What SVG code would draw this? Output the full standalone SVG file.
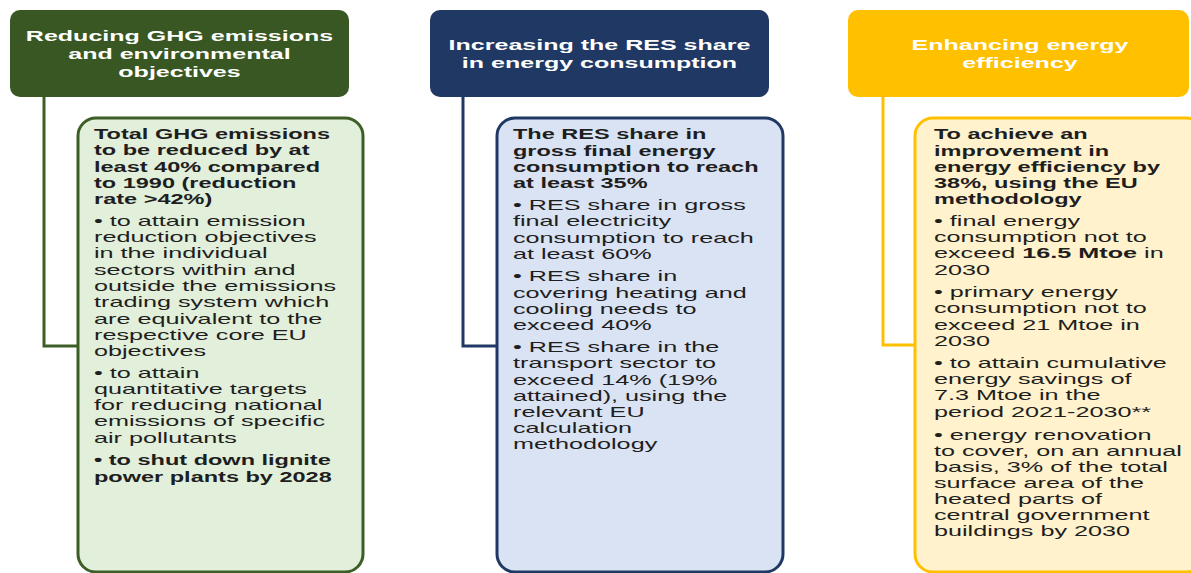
<svg xmlns="http://www.w3.org/2000/svg" width="1191" height="573" viewBox="0 0 1191 573">
<style>
.hdr{font-family:"Liberation Sans",Arial,sans-serif;font-size:15px;font-weight:bold;fill:#ffffff;text-anchor:middle}
.body{font-family:"Liberation Sans",Arial,sans-serif;font-size:14px;fill:#1e1e1e}
.b{font-weight:bold}
.conn{fill:none;stroke-width:3}
</style>
<rect width="1191" height="573" fill="#ffffff"/>
<g id="connectors">
<polyline class="conn" stroke="#3d5f27" points="44,97 44,346 78,346"/>
<polyline class="conn" stroke="#203864" points="463,97 463,346 497,346"/>
<polyline class="conn" stroke="#ffc000" points="883,97 883,345 915,345"/>
</g>
<g id="h1">
<rect x="10" y="10" width="339" height="87" rx="10" fill="#385723"/>
<g transform="translate(179.5,0) scale(1.67,1)">
<text class="hdr" x="0" y="41">Reducing GHG emissions</text>
<text class="hdr" x="0" y="59">and environmental</text>
<text class="hdr" x="0" y="77">objectives</text>
</g>
</g>
<g id="h2">
<rect x="430" y="10" width="339" height="87" rx="10" fill="#1f3864"/>
<g transform="translate(599.5,0) scale(1.67,1)">
<text class="hdr" x="0" y="50">Increasing the RES share</text>
<text class="hdr" x="0" y="68">in energy consumption</text>
</g>
</g>
<g id="h3">
<rect x="848" y="10" width="341" height="87" rx="10" fill="#ffc000"/>
<g transform="translate(1020,0) scale(1.67,1)">
<text class="hdr" x="0" y="50">Enhancing energy</text>
<text class="hdr" x="0" y="68">efficiency</text>
</g>
</g>
<g id="box1">
<rect x="78" y="118" width="285" height="454" rx="18" fill="#e2efda" stroke="#3d5f27" stroke-width="3"/>
<g transform="translate(94,0) scale(1.68,1)">
<text class="body b" x="0" y="139">Total GHG emissions</text>
<text class="body b" x="0" y="155">to be reduced by at</text>
<text class="body b" x="0" y="172">least 40% compared</text>
<text class="body b" x="0" y="188">to 1990 (reduction</text>
<text class="body b" x="0" y="204">rate &gt;42%)</text>
<text class="body b" x="0" y="465">• to shut down lignite</text>
<text class="body b" x="0" y="482">power plants by 2028</text>
</g>
<g transform="translate(94,0) scale(1.8,1)">
<text class="body" x="0" y="226">• to attain emission</text>
<text class="body" x="0" y="242">reduction objectives</text>
<text class="body" x="0" y="258">in the individual</text>
<text class="body" x="0" y="275">sectors within and</text>
<text class="body" x="0" y="291">outside the emissions</text>
<text class="body" x="0" y="307">trading system which</text>
<text class="body" x="0" y="324">are equivalent to the</text>
<text class="body" x="0" y="340">respective core EU</text>
<text class="body" x="0" y="356">objectives</text>
<text class="body" x="0" y="378">• to attain</text>
<text class="body" x="0" y="394">quantitative targets</text>
<text class="body" x="0" y="410">for reducing national</text>
<text class="body" x="0" y="426">emissions of specific</text>
<text class="body" x="0" y="443">air pollutants</text>
</g>
</g>
<g id="box2">
<rect x="497" y="118" width="286" height="454" rx="18" fill="#dae3f3" stroke="#203864" stroke-width="3"/>
<g transform="translate(513,0) scale(1.68,1)">
<text class="body b" x="0" y="139">The RES share in</text>
<text class="body b" x="0" y="156">gross final energy</text>
<text class="body b" x="0" y="172">consumption to reach</text>
<text class="body b" x="0" y="188">at least 35%</text>
</g>
<g transform="translate(513,0) scale(1.8,1)">
<text class="body" x="0" y="210">• RES share in gross</text>
<text class="body" x="0" y="226">final electricity</text>
<text class="body" x="0" y="243">consumption to reach</text>
<text class="body" x="0" y="259">at least 60%</text>
<text class="body" x="0" y="281">• RES share in</text>
<text class="body" x="0" y="298">covering heating and</text>
<text class="body" x="0" y="314">cooling needs to</text>
<text class="body" x="0" y="330">exceed 40%</text>
<text class="body" x="0" y="352">• RES share in the</text>
<text class="body" x="0" y="368">transport sector to</text>
<text class="body" x="0" y="385">exceed 14% (19%</text>
<text class="body" x="0" y="401">attained), using the</text>
<text class="body" x="0" y="417">relevant EU</text>
<text class="body" x="0" y="433">calculation</text>
<text class="body" x="0" y="449">methodology</text>
</g>
</g>
<g id="box3">
<rect x="915" y="118" width="290" height="454" rx="18" fill="#fff2cc" stroke="#ffc000" stroke-width="3"/>
<g transform="translate(934,0) scale(1.68,1)">
<text class="body b" x="0" y="139">To achieve an</text>
<text class="body b" x="0" y="156">improvement in</text>
<text class="body b" x="0" y="172">energy efficiency by</text>
<text class="body b" x="0" y="188">38%, using the EU</text>
<text class="body b" x="0" y="204">methodology</text>
</g>
<g transform="translate(934,0) scale(1.8,1)">
<text class="body" x="0" y="226">• final energy</text>
<text class="body" x="0" y="242">consumption not to</text>
<text class="body" x="0" y="258">exceed <tspan class="b">16.5 Mtoe</tspan> in</text>
<text class="body" x="0" y="275">2030</text>
<text class="body" x="0" y="297">• primary energy</text>
<text class="body" x="0" y="313">consumption not to</text>
<text class="body" x="0" y="330">exceed 21 Mtoe in</text>
<text class="body" x="0" y="346">2030</text>
<text class="body" x="0" y="368">• to attain cumulative</text>
<text class="body" x="0" y="384">energy savings of</text>
<text class="body" x="0" y="400">7.3 Mtoe in the</text>
<text class="body" x="0" y="417">period 2021-2030**</text>
<text class="body" x="0" y="440">• energy renovation</text>
<text class="body" x="0" y="456">to cover, on an annual</text>
<text class="body" x="0" y="472">basis, 3% of the total</text>
<text class="body" x="0" y="488">surface area of the</text>
<text class="body" x="0" y="504">heated parts of</text>
<text class="body" x="0" y="520">central government</text>
<text class="body" x="0" y="536">buildings by 2030</text>
</g>
</g>
</svg>
